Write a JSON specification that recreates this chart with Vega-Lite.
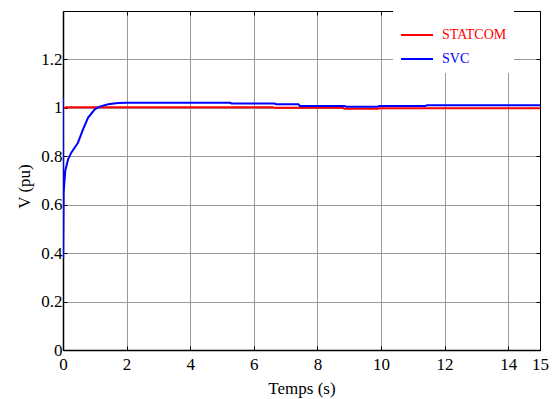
{
  "$schema": "https://vega.github.io/schema/vega-lite/v6.json",
  "width": 477,
  "height": 339,
  "autosize": {"type": "none"},
  "padding": {"left": 63, "top": 11, "right": 12, "bottom": 49},
  "background": "white",
  "config": {
    "font": "'Liberation Serif', serif",
    "view": {"stroke": "black", "strokeWidth": 1},
    "text": {"font": "'Liberation Serif', serif"},
    "axis": {
      "labelFont": "'Liberation Serif', serif",
      "titleFont": "'Liberation Serif', serif",
      "labelFontSize": 17,
      "titleFontSize": 17,
      "labelFontWeight": "normal",
      "titleFontWeight": "normal",
      "labelColor": "black",
      "titleColor": "black",
      "domainColor": "black",
      "tickColor": "black",
      "gridColor": "#999999",
      "gridWidth": 1
    },
    "legend": {
      "labelFont": "'Liberation Serif', serif"
    }
  },
  "datasets": {
    "voltage": [
      {"series": "STATCOM", "t": 0, "v": 0.997},
      {"series": "STATCOM", "t": 0.1, "v": 1.002},
      {"series": "STATCOM", "t": 6.6, "v": 1.003},
      {"series": "STATCOM", "t": 6.65, "v": 1.0},
      {"series": "STATCOM", "t": 8.8, "v": 1.0},
      {"series": "STATCOM", "t": 8.85, "v": 0.996},
      {"series": "STATCOM", "t": 9.9, "v": 0.996},
      {"series": "STATCOM", "t": 9.95, "v": 0.998},
      {"series": "STATCOM", "t": 15, "v": 0.998},
      {"series": "SVC", "t": 0, "v": 1.04},
      {"series": "SVC", "t": 0.005, "v": 0.38},
      {"series": "SVC", "t": 0.02, "v": 0.65},
      {"series": "SVC", "t": 0.07, "v": 0.74},
      {"series": "SVC", "t": 0.16, "v": 0.787},
      {"series": "SVC", "t": 0.26, "v": 0.815},
      {"series": "SVC", "t": 0.47, "v": 0.856},
      {"series": "SVC", "t": 0.63, "v": 0.911},
      {"series": "SVC", "t": 0.79, "v": 0.96},
      {"series": "SVC", "t": 1.0, "v": 0.994},
      {"series": "SVC", "t": 1.15, "v": 1.005},
      {"series": "SVC", "t": 1.42, "v": 1.015},
      {"series": "SVC", "t": 1.73, "v": 1.02},
      {"series": "SVC", "t": 2.0, "v": 1.021},
      {"series": "SVC", "t": 5.25, "v": 1.021},
      {"series": "SVC", "t": 5.3, "v": 1.018},
      {"series": "SVC", "t": 6.65, "v": 1.018},
      {"series": "SVC", "t": 6.7, "v": 1.015},
      {"series": "SVC", "t": 7.4, "v": 1.015},
      {"series": "SVC", "t": 7.45, "v": 1.008},
      {"series": "SVC", "t": 8.85, "v": 1.008},
      {"series": "SVC", "t": 8.9, "v": 1.005},
      {"series": "SVC", "t": 9.9, "v": 1.005},
      {"series": "SVC", "t": 9.95, "v": 1.008},
      {"series": "SVC", "t": 11.4, "v": 1.008},
      {"series": "SVC", "t": 11.45, "v": 1.011},
      {"series": "SVC", "t": 15, "v": 1.011}
    ]
  },
  "data": {"name": "voltage"},
  "resolve": {"axis": {"x": "independent", "y": "independent"}},
  "layer": [
    {
      "transform": [{"filter": "datum.series === 'STATCOM'"}],
      "mark": {"type": "line", "strokeWidth": 2, "clip": true},
      "encoding": {
        "x": {
          "field": "t", "type": "quantitative",
          "scale": {"domain": [0, 15], "nice": false, "zero": false},
          "axis": {
            "orient": "bottom",
            "title": "Temps (s)",
            "values": [0, 2, 4, 6, 8, 10, 12, 14, 15],
            "grid": true,
            "tickSize": -4,
            "labelPadding": 10,
            "domainWidth": 1.5,
            "labelFlush": false,
            "titleY": 43,
            "titleBaseline": "alphabetic"
          }
        },
        "y": {
          "field": "v", "type": "quantitative",
          "scale": {"domain": [0, 1.4], "nice": false, "zero": false},
          "axis": {
            "orient": "left",
            "title": "V (pu)",
            "values": [0, 0.2, 0.4, 0.6, 0.8, 1, 1.2],
            "format": "~g",
            "grid": true,
            "tickSize": -4,
            "labelPadding": 5,
            "domainWidth": 1.5,
            "labelFlush": false,
            "titleAngle": -90,
            "titleX": -34,
            "titleY": 175,
            "titleAlign": "center",
            "titleBaseline": "alphabetic"
          }
        },
        "color": {
          "field": "series", "type": "nominal",
          "scale": {"domain": ["STATCOM", "SVC"], "range": ["#ff0000", "#0000ff"]},
          "legend": {
            "title": null,
            "orient": "none",
            "legendX": 330,
            "legendY": 0,
            "padding": 7,
            "fillColor": "white",
            "symbolType": "stroke",
            "symbolSize": 1024,
            "symbolStrokeWidth": 2,
            "labelFontSize": 14,
            "labelOffset": 8,
            "rowPadding": -7,
            "encode": {
              "labels": {
                "update": {
                  "fill": {"signal": "datum.value === 'SVC' ? '#0000ff' : '#ff0000'"}
                }
              }
            }
          }
        }
      }
    },
    {
      "transform": [{"filter": "datum.series === 'SVC'"}],
      "mark": {"type": "line", "strokeWidth": 2, "clip": true},
      "encoding": {
        "x": {
          "field": "t", "type": "quantitative",
          "scale": {"domain": [0, 15], "nice": false, "zero": false},
          "axis": {
            "orient": "top",
            "title": null,
            "labels": false,
            "values": [0, 2, 4, 6, 8, 10, 12, 14, 15],
            "grid": false,
            "tickSize": -4,
            "domainWidth": 1
          }
        },
        "y": {
          "field": "v", "type": "quantitative",
          "scale": {"domain": [0, 1.4], "nice": false, "zero": false},
          "axis": {
            "orient": "right",
            "title": null,
            "labels": false,
            "values": [0, 0.2, 0.4, 0.6, 0.8, 1, 1.2],
            "grid": false,
            "tickSize": -4,
            "domainWidth": 1
          }
        },
        "color": {"field": "series", "type": "nominal"}
      }
    }
  ]
}
